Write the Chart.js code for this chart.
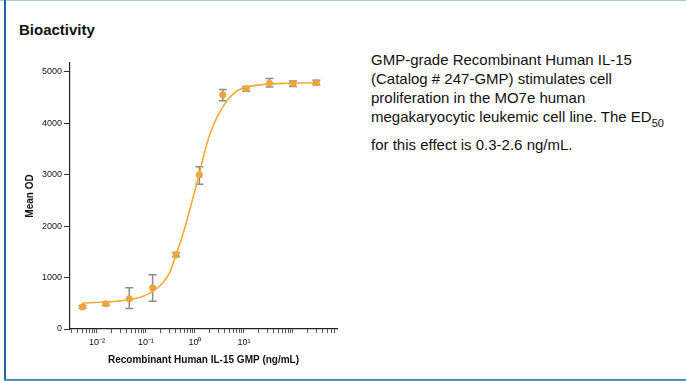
<!DOCTYPE html>
<html>
<head>
<meta charset="utf-8">
<script src="https://cdn.jsdelivr.net/npm/chart.js@4.4.1/dist/chart.umd.min.js"></script>
<style>
  html, body { margin: 0; padding: 0; background: #fff; }
  #page { position: relative; width: 686px; height: 381px; overflow: hidden; font-family: "Liberation Sans", Arial, sans-serif; }
  #topline { position: absolute; left: 0; top: 0; width: 686px; height: 1px; background: #a9c9e8; }
  #leftline { position: absolute; left: 4px; top: 0; width: 2px; height: 381px; background: #2161a6; }
  #bottomline { position: absolute; left: 4px; top: 379px; width: 682px; height: 2px; background: #4f90c8; }
  #title { position: absolute; left: 19px; top: 21px; font-size: 15px; font-weight: bold; color: #111; }
  #desc { position: absolute; left: 371px; top: 50px; font-size: 15px; line-height: 19px; color: #111; }
  #desc .sub { position: relative; top: 5px; font-size: 11px; }
  #desc .last { margin-top: 7px; }
  #chartBox { position: absolute; left: 0; top: 50px; width: 350px; height: 320px; }
</style>
</head>
<body>
<div id="page">
  <div id="topline"></div>
  <div id="leftline"></div>
  <div id="bottomline"></div>
  <div id="title">Bioactivity</div>
  <div id="desc">
    <div>GMP-grade Recombinant Human IL-15<br>(Catalog # 247-GMP) stimulates cell<br>proliferation in the MO7e human<br>megakaryocytic leukemic cell line. The ED<span class="sub">50</span></div>
    <div class="last">for this effect is 0.3-2.6 ng/mL.</div>
  </div>
  <div id="chartBox"><canvas id="bioChart"></canvas></div>
</div>
<script>
// measured points (ng/mL vs mean OD) with error bar ends
const conc = [0.00508, 0.0152, 0.0457, 0.137, 0.412, 1.23, 3.70, 11.1, 33.3, 100, 300];
const meanOD = [430, 490, 590, 800, 1445, 3000, 4555, 4670, 4775, 4765, 4785];
const errLow = [405, 455, 400, 540, 1405, 2815, 4435, 4620, 4705, 4715, 4745];
const errHigh = [455, 525, 800, 1055, 1485, 3155, 4655, 4715, 4870, 4820, 4835];

// fitted curve
const fitConc = [0.005, 0.015, 0.044, 0.088, 0.141, 0.226, 0.31, 0.41, 0.55, 0.68, 0.92, 1.26, 1.73, 2.35, 3.5, 5.1, 7.6, 11.2, 21, 34, 74, 300];
const fitOD = [505, 525, 570, 638, 735, 910, 1110, 1442, 1800, 2100, 2560, 3060, 3580, 3950, 4280, 4500, 4640, 4700, 4745, 4765, 4775, 4785];

const yTicks = [0, 1000, 2000, 3000, 4000, 5000];
const xMajor = [0.01, 0.1, 1, 10];
const xMajorLabels = ['10\u207B\u00B2', '10\u207B\u00B9', '10\u2070', '10\u00B9'];

const axisFont = { family: '"Liberation Sans", Arial, sans-serif', size: 9 };
const titleFont = { family: '"Liberation Sans", Arial, sans-serif', size: 10, weight: 'bold' };

const errorBars = {
    id: 'errorBars',
    beforeDatasetsDraw(chart) {
        const ctx = chart.ctx;
        const xs = chart.scales.x, ys = chart.scales.y;
        ctx.save();
        ctx.strokeStyle = '#8c8c8c';
        ctx.lineWidth = 1.5;
        for (let i = 0; i < conc.length; i++) {
            const x = xs.getPixelForValue(conc[i]);
            const y1 = ys.getPixelForValue(errLow[i]);
            const y2 = ys.getPixelForValue(errHigh[i]);
            ctx.beginPath();
            ctx.moveTo(x, y1); ctx.lineTo(x, y2);
            ctx.moveTo(x - 4, y1); ctx.lineTo(x + 4, y1);
            ctx.moveTo(x - 4, y2); ctx.lineTo(x + 4, y2);
            ctx.stroke();
        }
        ctx.restore();
    }
};

const ctx = document.getElementById('bioChart');
new Chart(ctx, {
    type: 'scatter',
    data: {
        datasets: [
            {
                type: 'line',
                data: fitConc.map((c, i) => ({ x: c, y: fitOD[i] })),
                borderColor: '#f4a93b',
                borderWidth: 1.6,
                pointRadius: 0,
                fill: false,
                cubicInterpolationMode: 'monotone'
            },
            {
                data: conc.map((c, i) => ({ x: c, y: meanOD[i] })),
                backgroundColor: '#eba43d',
                borderWidth: 0,
                pointRadius: 3.5
            }
        ]
    },
    options: {
        responsive: true,
        maintainAspectRatio: false,
        animation: false,
        layout: { padding: { top: 13, right: 13, left: 0, bottom: 0 } },
        plugins: { legend: { display: false }, tooltip: { enabled: false } },
        scales: {
            x: {
                type: 'logarithmic',
                min: 0.00282,
                max: 794,
                afterBuildTicks(scale) {
                    const t = [];
                    for (let d = -3; d <= 2; d++) {
                        for (let m = 1; m <= 9; m++) {
                            const v = m * Math.pow(10, d);
                            if (v >= 0.003 && v <= 700) t.push({ value: v });
                        }
                    }
                    scale.ticks = t;
                },
                afterFit(scale) { scale.height = 41; },
                grid: { drawOnChartArea: false, drawTicks: true, tickLength: 4, tickColor: '#555', tickWidth: 1 },
                border: { display: true, color: '#222', width: 1.2 },
                ticks: {
                    autoSkip: false,
                    maxRotation: 0,
                    padding: 4,
                    color: '#111',
                    font: axisFont,
                    callback(value) {
                        for (let k = 0; k < xMajor.length; k++) {
                            if (Math.abs(value / xMajor[k] - 1) < 1e-6) return xMajorLabels[k];
                        }
                        return '';
                    }
                },
                title: {
                    display: true,
                    text: 'Recombinant Human IL-15 GMP (ng/mL)',
                    color: '#111',
                    font: titleFont,
                    padding: { top: 0, bottom: 4 }
                }
            },
            y: {
                min: 0,
                max: 5170,
                afterBuildTicks(scale) { scale.ticks = yTicks.map(v => ({ value: v })); },
                afterFit(scale) { scale.width = 70; },
                grid: { drawOnChartArea: false, drawTicks: true, tickLength: 6, tickColor: '#333', tickWidth: 1 },
                border: { display: true, color: '#222', width: 1.2 },
                ticks: { padding: 2, color: '#111', font: axisFont, callback: v => String(v) },
                title: {
                    display: true,
                    text: 'Mean OD',
                    color: '#111',
                    font: titleFont,
                    padding: { top: 24, bottom: 0 }
                }
            }
        }
    },
    plugins: [errorBars]
});
</script>
</body>
</html>
